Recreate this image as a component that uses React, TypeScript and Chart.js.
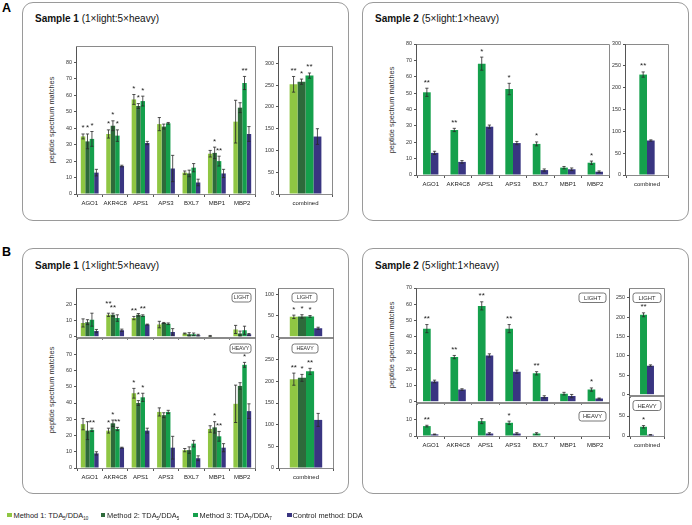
import React, { useEffect, useRef } from 'react';
import { Chart, registerables } from 'chart.js';
Chart.register(...registerables);

const FONT = '"Liberation Sans", Arial, Helvetica, sans-serif';
const YW = 24;
const PT = 14;
const PR = 4;

const COLOR_M1 = '#8fc643';
const COLOR_M2 = '#2e6a3b';
const COLOR_M3 = '#15a04c';
const COLOR_C = '#393581';

const GENES = ['AGO1', 'AKR4C8', 'APS1', 'APS3', 'BXL7', 'MBP1', 'MBP2'];
const COMBINED = ['combined'];

// ---------- Panel A, Sample 1 ----------
const A1_M1 = [35, 36.5, 57.5, 42.5, 13, 24.5, 44];
const A1_M1_ERR = [1.5, 2.5, 3, 4, 1, 2, 13];
const A1_M1_SIG = ['*', '*', '*', '', '', '', ''];
const A1_M2 = [32, 41.5, 53.5, 41, 12.5, 25, 52.5];
const A1_M2_ERR = [4.5, 3, 1.5, 1.5, 2, 3.5, 3];
const A1_M2_SIG = ['*', '*', '*', '', '', '*', ''];
const A1_M3 = [33.5, 35.5, 56.5, 43, 16, 20, 67.5];
const A1_M3_ERR = [4.5, 3.5, 3, 0.5, 2.5, 3, 4];
const A1_M3_SIG = ['*', '*', '*', '', '', '**', '**'];
const A1_C = [13, 17, 31, 15.5, 7, 12.5, 36.5];
const A1_C_ERR = [2, 0.5, 1, 8, 2, 2.5, 4.5];

const A1C_M1 = [252]; const A1C_M1_ERR = [18]; const A1C_M1_SIG = ['**'];
const A1C_M2 = [258]; const A1C_M2_ERR = [6]; const A1C_M2_SIG = ['*'];
const A1C_M3 = [272]; const A1C_M3_ERR = [6]; const A1C_M3_SIG = ['**'];
const A1C_C = [132]; const A1C_C_ERR = [18];

// ---------- Panel A, Sample 2 ----------
const A2_M3 = [50.5, 27.5, 68, 52.5, 19, 4.5, 7.5];
const A2_M3_ERR = [2.5, 1, 4, 3.5, 1.2, 0.7, 1];
const A2_M3_SIG = ['**', '**', '*', '*', '*', '', '*'];
const A2_C = [13.5, 8, 29.5, 19.5, 3, 3.5, 2];
const A2_C_ERR = [1, 0.8, 1, 1, 0.7, 0.8, 0.5];
const A2C_M3 = [230]; const A2C_M3_ERR = [6]; const A2C_M3_SIG = ['**'];
const A2C_C = [79]; const A2C_C_ERR = [1.5];

// ---------- Panel B, Sample 1, LIGHT ----------
const B1L_M1 = [8.5, 13.5, 11.5, 7.5, 2, 0.5, 4.5];
const B1L_M1_ERR = [2.5, 1, 1, 2, 0.3, 0.3, 2.5];
const B1L_M1_SIG = ['', '**', '**', '', '', '', ''];
const B1L_M2 = [9, 13.5, 13.5, 8.5, 1.5, 0, 2];
const B1L_M2_ERR = [1.5, 1, 0.8, 0.3, 1, 0, 1.5];
const B1L_M2_SIG = ['', '**', '', '', '', '', ''];
const B1L_M3 = [10.5, 11.5, 13, 8, 1.5, 0, 4];
const B1L_M3_ERR = [4, 2, 0.5, 0.5, 0.8, 0, 2.5];
const B1L_M3_SIG = ['', '', '**', '', '', '', ''];
const B1L_C = [3.5, 4, 7.5, 3, 1, 0, 1.5];
const B1L_C_ERR = [1, 0.7, 0.3, 2, 0.5, 0, 0.5];

const B1LC_M1 = [47]; const B1LC_M1_ERR = [4]; const B1LC_M1_SIG = ['*'];
const B1LC_M2 = [48]; const B1LC_M2_ERR = [4]; const B1LC_M2_SIG = ['*'];
const B1LC_M3 = [48]; const B1LC_M3_ERR = [2]; const B1LC_M3_SIG = ['*'];
const B1LC_C = [20]; const B1LC_C_ERR = [2.5];

// ---------- Panel B, Sample 1, HEAVY ----------
const B1H_M1 = [27, 23, 46, 34.5, 11, 24, 39.5];
const B1H_M1_ERR = [3.5, 1.5, 3, 2.5, 1, 2, 11.5];
const B1H_M1_SIG = ['', '*', '*', '', '', '', ''];
const B1H_M2 = [23, 27.5, 40, 32.5, 11, 25, 50.5];
const B1H_M2_ERR = [5.5, 2, 1.5, 1.5, 2, 3.5, 2];
const B1H_M2_SIG = ['', '*', '*', '', '', '*', ''];
const B1H_M3 = [23.5, 24, 43.5, 34.5, 15, 19.5, 63.5];
const B1H_M3_ERR = [1, 1, 2.5, 1, 2, 3, 1.5];
const B1H_M3_SIG = ['**', '**', '*', '', '', '**', '*'];
const B1H_C = [9, 12.5, 23, 12.5, 6, 12.5, 35];
const B1H_C_ERR = [1, 0.3, 1.5, 7, 1.5, 2.5, 4.5];

const B1HC_M1 = [205]; const B1HC_M1_ERR = [14]; const B1HC_M1_SIG = ['**'];
const B1HC_M2 = [208]; const B1HC_M2_ERR = [8]; const B1HC_M2_SIG = ['*'];
const B1HC_M3 = [223]; const B1HC_M3_ERR = [7]; const B1HC_M3_SIG = ['**'];
const B1HC_C = [111]; const B1HC_C_ERR = [15];

// ---------- Panel B, Sample 2 ----------
const B2L_M3 = [45, 27.5, 59, 45, 17.5, 5, 7.5];
const B2L_M3_ERR = [2.5, 1, 2.5, 2.5, 1, 0.8, 1];
const B2L_M3_SIG = ['**', '**', '**', '**', '**', '', '*'];
const B2L_C = [12.5, 7.5, 28.5, 18.5, 3, 3.5, 2];
const B2L_C_ERR = [0.8, 0.5, 1, 1, 0.7, 1, 0.3];
const B2H_M3 = [6, 0, 9, 8, 1.5, 0, 0];
const B2H_M3_ERR = [0.5, 0, 1.5, 1, 0.5, 0, 0];
const B2H_M3_SIG = ['**', '', '', '*', '', '', ''];
const B2H_C = [1, 0, 1.5, 1.5, 0, 0, 0];
const B2H_C_ERR = [0.2, 0, 0.5, 0.5, 0, 0, 0];
const B2LC_M3 = [206]; const B2LC_M3_ERR = [5]; const B2LC_M3_SIG = ['**'];
const B2LC_C = [75]; const B2LC_C_ERR = [2];
const B2HC_M3 = [23]; const B2HC_M3_ERR = [3]; const B2HC_M3_SIG = ['*'];
const B2HC_C = [3]; const B2HC_C_ERR = [0.5];

type Series = { values: number[]; err: number[]; sig: string[]; color: string; sigLift?: number[] };
type Tag = { text: string; w: number; h: number; rm: number; to: number; fs: number };
type Spec = {
  id: string; l: number; t: number; r: number; b: number;
  labels: string[]; series: Series[]; max: number; labelMax: number; step: number;
  showX: boolean; cat: number; tag?: Tag;
};

const none = (n: number) => new Array(n).fill('');
const ser = (values: number[], err: number[], sig: string[] | null, color: string, sigLift?: number[]): Series =>
  ({ values, err, sig: sig || none(values.length), color, sigLift });

// extra vertical lift (px) of a few star labels that sit staggered in the original
const B1L_M1_LIFT = [0, 4, 0, 0, 0, 0, 0];

const S1_TAG_L: Tag = { text: 'LIGHT', w: 19, h: 9, rm: 4, to: 5, fs: 5.2 };
const S1_TAG_H: Tag = { text: 'HEAVY', w: 21, h: 9, rm: 4, to: 6, fs: 5.2 };
const S1C_TAG_L: Tag = { text: 'LIGHT', w: 25, h: 9, rm: 16, to: 5, fs: 5.2 };
const S1C_TAG_H: Tag = { text: 'HEAVY', w: 26, h: 9, rm: 15, to: 6, fs: 5.2 };
const S2_TAG_L: Tag = { text: 'LIGHT', w: 27, h: 9.5, rm: 3, to: 5, fs: 5.8 };
const S2_TAG_H: Tag = { text: 'HEAVY', w: 27, h: 9.5, rm: 3, to: 8.5, fs: 5.8 };
const S2C_TAG_L: Tag = { text: 'LIGHT', w: 28, h: 9.5, rm: 3, to: 5, fs: 5.8 };
const S2C_TAG_H: Tag = { text: 'HEAVY', w: 28, h: 10, rm: 3, to: 4.5, fs: 5.8 };

const SPECS: Spec[] = [
  { id: 'a1', l: 77, t: 46, r: 255, b: 194, labels: GENES, max: 90, labelMax: 80, step: 10, showX: true, cat: 0.7,
    series: [ser(A1_M1, A1_M1_ERR, A1_M1_SIG, COLOR_M1), ser(A1_M2, A1_M2_ERR, A1_M2_SIG, COLOR_M2), ser(A1_M3, A1_M3_ERR, A1_M3_SIG, COLOR_M3), ser(A1_C, A1_C_ERR, null, COLOR_C)] },
  { id: 'a1c', l: 279, t: 46, r: 332, b: 194, labels: COMBINED, max: 340, labelMax: 300, step: 50, showX: true, cat: 0.6,
    series: [ser(A1C_M1, A1C_M1_ERR, A1C_M1_SIG, COLOR_M1), ser(A1C_M2, A1C_M2_ERR, A1C_M2_SIG, COLOR_M2), ser(A1C_M3, A1C_M3_ERR, A1C_M3_SIG, COLOR_M3), ser(A1C_C, A1C_C_ERR, null, COLOR_C)] },
  { id: 'a2', l: 417, t: 44, r: 609, b: 175, labels: GENES, max: 80, labelMax: 80, step: 10, showX: true, cat: 0.56,
    series: [ser(A2_M3, A2_M3_ERR, A2_M3_SIG, COLOR_M3), ser(A2_C, A2_C_ERR, null, COLOR_C)] },
  { id: 'a2c', l: 626, t: 44, r: 668, b: 175, labels: COMBINED, max: 300, labelMax: 300, step: 50, showX: true, cat: 0.365,
    series: [ser(A2C_M3, A2C_M3_ERR, A2C_M3_SIG, COLOR_M3), ser(A2C_C, A2C_C_ERR, null, COLOR_C)] },
  { id: 'b1l', l: 77, t: 288, r: 255, b: 338, labels: GENES, max: 30, labelMax: 20, step: 10, showX: false, cat: 0.7, tag: S1_TAG_L,
    series: [ser(B1L_M1, B1L_M1_ERR, B1L_M1_SIG, COLOR_M1, B1L_M1_LIFT), ser(B1L_M2, B1L_M2_ERR, B1L_M2_SIG, COLOR_M2), ser(B1L_M3, B1L_M3_ERR, B1L_M3_SIG, COLOR_M3), ser(B1L_C, B1L_C_ERR, null, COLOR_C)] },
  { id: 'b1h', l: 77, t: 338, r: 255, b: 468, labels: GENES, max: 80, labelMax: 70, step: 10, showX: true, cat: 0.7, tag: S1_TAG_H,
    series: [ser(B1H_M1, B1H_M1_ERR, B1H_M1_SIG, COLOR_M1), ser(B1H_M2, B1H_M2_ERR, B1H_M2_SIG, COLOR_M2), ser(B1H_M3, B1H_M3_ERR, B1H_M3_SIG, COLOR_M3), ser(B1H_C, B1H_C_ERR, null, COLOR_C)] },
  { id: 'b1lc', l: 279, t: 288, r: 333, b: 338, labels: COMBINED, max: 115, labelMax: 100, step: 50, showX: false, cat: 0.6, tag: S1C_TAG_L,
    series: [ser(B1LC_M1, B1LC_M1_ERR, B1LC_M1_SIG, COLOR_M1), ser(B1LC_M2, B1LC_M2_ERR, B1LC_M2_SIG, COLOR_M2), ser(B1LC_M3, B1LC_M3_ERR, B1LC_M3_SIG, COLOR_M3), ser(B1LC_C, B1LC_C_ERR, null, COLOR_C)] },
  { id: 'b1hc', l: 279, t: 338, r: 333, b: 468, labels: COMBINED, max: 300, labelMax: 250, step: 50, showX: true, cat: 0.6, tag: S1C_TAG_H,
    series: [ser(B1HC_M1, B1HC_M1_ERR, B1HC_M1_SIG, COLOR_M1), ser(B1HC_M2, B1HC_M2_ERR, B1HC_M2_SIG, COLOR_M2), ser(B1HC_M3, B1HC_M3_ERR, B1HC_M3_SIG, COLOR_M3), ser(B1HC_C, B1HC_C_ERR, null, COLOR_C)] },
  { id: 'b2l', l: 417, t: 288, r: 609, b: 403, labels: GENES, max: 70, labelMax: 70, step: 10, showX: false, cat: 0.56, tag: S2_TAG_L,
    series: [ser(B2L_M3, B2L_M3_ERR, B2L_M3_SIG, COLOR_M3), ser(B2L_C, B2L_C_ERR, null, COLOR_C)] },
  { id: 'b2h', l: 417, t: 403, r: 609, b: 436, labels: GENES, max: 20, labelMax: 10, step: 10, showX: true, cat: 0.56, tag: S2_TAG_H,
    series: [ser(B2H_M3, B2H_M3_ERR, B2H_M3_SIG, COLOR_M3), ser(B2H_C, B2H_C_ERR, null, COLOR_C)] },
  { id: 'b2lc', l: 630, t: 288, r: 664, b: 396, labels: COMBINED, max: 275, labelMax: 250, step: 50, showX: false, cat: 0.41, tag: S2C_TAG_L,
    series: [ser(B2LC_M3, B2LC_M3_ERR, B2LC_M3_SIG, COLOR_M3), ser(B2LC_C, B2LC_C_ERR, null, COLOR_C)] },
  { id: 'b2hc', l: 630, t: 396, r: 664, b: 436, labels: COMBINED, max: 100, labelMax: 50, step: 50, showX: true, cat: 0.41, tag: S2C_TAG_H,
    series: [ser(B2HC_M3, B2HC_M3_ERR, B2HC_M3_SIG, COLOR_M3), ser(B2HC_C, B2HC_C_ERR, null, COLOR_C)] },
];

const xHeight = (s: Spec) => (s.showX ? 16 : 4);

function makeConfig(s: Spec): any {
  const extras = {
    id: 'extras' + s.id,
    afterDatasetsDraw(chart: any) {
      const { ctx, chartArea: a, scales } = chart;
      const y = scales.y;
      ctx.save();
      s.series.forEach((sr, i) => {
        const meta = chart.getDatasetMeta(i);
        meta.data.forEach((el: any, j: number) => {
          const v = sr.values[j];
          const e = sr.err[j];
          const x = el.x;
          const yTop = y.getPixelForValue(v + e);
          if (e > 0) {
            const yBot = y.getPixelForValue(Math.max(0, v - e));
            ctx.strokeStyle = '#2a2a2a';
            ctx.lineWidth = 0.8;
            ctx.beginPath();
            ctx.moveTo(x, yTop); ctx.lineTo(x, yBot);
            ctx.moveTo(x - 1.6, yTop); ctx.lineTo(x + 1.6, yTop);
            ctx.moveTo(x - 1.6, yBot); ctx.lineTo(x + 1.6, yBot);
            ctx.stroke();
          }
          const sg = sr.sig[j];
          if (sg) {
            const lift = sr.sigLift ? sr.sigLift[j] : 0;
            ctx.fillStyle = '#222';
            ctx.font = `8px ${FONT}`;
            ctx.textAlign = 'center';
            ctx.textBaseline = 'alphabetic';
            ctx.fillText(sg, x, yTop - 3.5 - lift);
          }
        });
      });
      // frame
      ctx.strokeStyle = '#8a8a8a';
      ctx.lineWidth = 1;
      const x0 = Math.round(a.left) - 0.5;
      const x1 = Math.round(a.right) + 0.5;
      const y0 = Math.round(a.top) + 0.5;
      const y1 = Math.round(a.bottom) + 0.5;
      ctx.beginPath();
      ctx.moveTo(x0, y0); ctx.lineTo(x1, y0); ctx.lineTo(x1, y1); ctx.lineTo(x0, y1);
      ctx.stroke();
      ctx.strokeStyle = '#555';
      ctx.beginPath();
      ctx.moveTo(x0, y0); ctx.lineTo(x0, y1 + 0.5);
      ctx.stroke();
      // tag
      if (s.tag) {
        const tg = s.tag;
        const rx1 = a.right - tg.rm;
        const rx0 = rx1 - tg.w;
        const ry0 = a.top + tg.to;
        const rr = 2.5;
        ctx.beginPath();
        ctx.moveTo(rx0 + rr, ry0);
        ctx.lineTo(rx1 - rr, ry0);
        ctx.arcTo(rx1, ry0, rx1, ry0 + rr, rr);
        ctx.lineTo(rx1, ry0 + tg.h - rr);
        ctx.arcTo(rx1, ry0 + tg.h, rx1 - rr, ry0 + tg.h, rr);
        ctx.lineTo(rx0 + rr, ry0 + tg.h);
        ctx.arcTo(rx0, ry0 + tg.h, rx0, ry0 + tg.h - rr, rr);
        ctx.lineTo(rx0, ry0 + rr);
        ctx.arcTo(rx0, ry0, rx0 + rr, ry0, rr);
        ctx.closePath();
        ctx.fillStyle = '#fff';
        ctx.fill();
        ctx.strokeStyle = '#555';
        ctx.lineWidth = 0.8;
        ctx.stroke();
        ctx.fillStyle = '#333';
        ctx.font = `${tg.fs}px ${FONT}`;
        ctx.textAlign = 'center';
        ctx.textBaseline = 'middle';
        ctx.fillText(tg.text, (rx0 + rx1) / 2, ry0 + tg.h / 2 + 0.5);
      }
      ctx.restore();
    },
  };
  return {
    type: 'bar',
    data: {
      labels: s.labels,
      datasets: s.series.map((sr) => ({
        data: sr.values,
        backgroundColor: sr.color,
        borderWidth: 0,
        categoryPercentage: s.cat,
        barPercentage: 1,
      })),
    },
    options: {
      responsive: false,
      maintainAspectRatio: false,
      animation: false,
      devicePixelRatio: 1,
      layout: { padding: { top: PT, right: PR, left: 0, bottom: 0 } },
      plugins: { legend: { display: false }, tooltip: { enabled: false }, title: { display: false } },
      scales: {
        x: {
          ticks: { display: s.showX, autoSkip: false, maxRotation: 0, minRotation: 0, padding: 3,
            font: { family: FONT, size: 6 }, color: '#222' },
          grid: { display: true, offset: true, drawOnChartArea: false, drawTicks: true, tickLength: 3, color: '#555', lineWidth: 1 },
          border: { display: false },
          afterFit: (sc: any) => { sc.height = xHeight(s); },
        },
        y: {
          min: 0,
          max: s.max,
          ticks: { stepSize: s.step, padding: 2, font: { family: FONT, size: 5.4 }, color: '#333' },
          afterBuildTicks: (sc: any) => { sc.ticks = sc.ticks.filter((t: any) => t.value <= s.labelMax + 1e-6); },
          grid: { display: true, drawOnChartArea: false, drawTicks: true, tickLength: 3, color: '#555', lineWidth: 1 },
          border: { display: false },
          afterFit: (sc: any) => { sc.width = YW; },
        },
      },
    },
    plugins: [extras],
  };
}

function BarChart({ spec }: { spec: Spec }) {
  const ref = useRef<HTMLCanvasElement>(null);
  useEffect(() => {
    if (!ref.current) return;
    const chart = new Chart(ref.current, makeConfig(spec));
    return () => chart.destroy();
  }, [spec]);
  const W = spec.r - spec.l + YW + PR;
  const H = spec.b - spec.t + PT + xHeight(spec);
  return (
    <canvas
      ref={ref}
      width={W}
      height={H}
      style={{ position: 'absolute', left: spec.l - YW, top: spec.t - PT, width: W, height: H, display: 'block' }}
    />
  );
}

function Box({ l, t, r, b }: { l: number; t: number; r: number; b: number }) {
  return (
    <div style={{ position: 'absolute', left: l, top: t, width: r - l, height: b - t, border: '1px solid #9a9a9a',
      borderRadius: 11, boxSizing: 'border-box' }} />
  );
}

function SampleTitle({ x, y, name, ratio }: { x: number; y: number; name: string; ratio: string }) {
  return (
    <div style={{ position: 'absolute', left: x, top: y, fontSize: 10, lineHeight: '10px', whiteSpace: 'nowrap', color: '#111' }}>
      <b>{name}</b> {ratio}
    </div>
  );
}

function YTitle({ cx, cy }: { cx: number; cy: number }) {
  return (
    <div style={{ position: 'absolute', left: cx, top: cy, transform: 'translate(-50%, -50%) rotate(-90deg)',
      fontSize: 7.4, lineHeight: '8px', whiteSpace: 'nowrap', color: '#333' }}>
      peptide spectrum matches
    </div>
  );
}

const LEGEND = [
  { x: 7, color: COLOR_M1, name: 'Method 1: TDA', a: '5', mid: '/DDA', b: '10' },
  { x: 100.5, color: COLOR_M2, name: 'Method 2: TDA', a: '5', mid: '/DDA', b: '5' },
  { x: 193, color: COLOR_M3, name: 'Method 3: TDA', a: '7', mid: '/DDA', b: '7' },
];

export default function App() {
  const sub: React.CSSProperties = { fontSize: 4.5, verticalAlign: 'baseline', position: 'relative', top: 1.5 };
  return (
    <div style={{ position: 'absolute', left: 0, top: 0, width: 692, height: 525, background: '#fff',
      fontFamily: FONT, overflow: 'hidden' }}>
      <div style={{ position: 'absolute', left: 2, top: 2, fontSize: 12.5, fontWeight: 'bold', lineHeight: '13px' }}>A</div>
      <div style={{ position: 'absolute', left: 2, top: 246, fontSize: 12.5, fontWeight: 'bold', lineHeight: '13px' }}>B</div>
      <Box l={22} t={2} r={349} b={221} />
      <Box l={362} t={2} r={689} b={221} />
      <Box l={22} t={248} r={349} b={494} />
      <Box l={362} t={248} r={689} b={494} />
      <SampleTitle x={35} y={14} name="Sample 1" ratio="(1×light:5×heavy)" />
      <SampleTitle x={375} y={14} name="Sample 2" ratio="(5×light:1×heavy)" />
      <SampleTitle x={35} y={261} name="Sample 1" ratio="(1×light:5×heavy)" />
      <SampleTitle x={375} y={261} name="Sample 2" ratio="(5×light:1×heavy)" />
      <YTitle cx={52} cy={120} />
      <YTitle cx={392} cy={110} />
      <YTitle cx={52} cy={390} />
      <YTitle cx={392} cy={345} />
      {SPECS.map((s) => <BarChart key={s.id} spec={s} />)}
      {LEGEND.map((it) => (
        <div key={it.x} style={{ position: 'absolute', left: it.x, top: 511, height: 10, whiteSpace: 'nowrap',
          fontSize: 7.4, lineHeight: '10px', color: '#222' }}>
          <span style={{ display: 'inline-block', width: 4.5, height: 4.5, background: it.color, marginRight: 2, verticalAlign: 'middle', position: 'relative', top: -1 }} />
          {it.name}<span style={sub}>{it.a}</span>{it.mid}<span style={sub}>{it.b}</span>
        </div>
      ))}
      <div style={{ position: 'absolute', left: 287, top: 511, height: 10, whiteSpace: 'nowrap',
        fontSize: 7.4, lineHeight: '10px', color: '#222' }}>
        <span style={{ display: 'inline-block', width: 4.5, height: 4.5, background: COLOR_C, marginRight: 1, verticalAlign: 'middle', position: 'relative', top: -1 }} />
        Control method: DDA
      </div>
    </div>
  );
}
